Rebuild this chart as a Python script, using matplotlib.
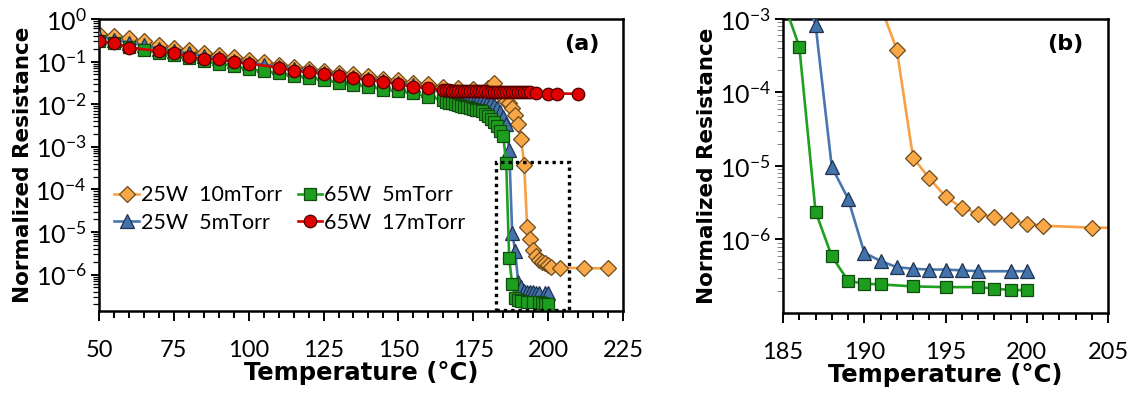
import matplotlib
matplotlib.use("Agg")
import matplotlib.pyplot as plt
from matplotlib.ticker import FixedLocator, LogLocator, FuncFormatter, NullFormatter, MultipleLocator
from matplotlib.patches import Rectangle
import numpy as np

plt.rcParams['font.family'] = ['Lato', 'DejaVu Sans']
plt.rcParams['mathtext.fontset'] = 'custom'
plt.rcParams['mathtext.rm'] = 'Lato'
plt.rcParams['mathtext.bf'] = 'Lato:bold'

# ---------------- data ----------------
# 25W 10mTorr (orange diamonds)
t_25w10 = [50, 55, 60, 65, 70, 75, 80, 85, 90, 95, 100, 105, 110, 115, 120, 125, 130, 135, 140, 145,
           150, 155, 160, 165, 170, 175, 180, 182, 184, 185, 186, 187, 188, 189, 190, 191, 192, 193,
           194, 195, 196, 197, 198, 199, 200, 201, 204, 212, 220]
r_25w10 = [0.45, 0.40, 0.35, 0.30, 0.25, 0.21, 0.185, 0.16, 0.14, 0.125, 0.11, 0.098, 0.085, 0.076,
           0.068, 0.060, 0.055, 0.050, 0.045, 0.040, 0.036, 0.032, 0.029, 0.026, 0.024, 0.023, 0.024,
           0.031, 0.018, 0.015, 0.012, 0.0104, 0.008, 0.0055, 0.0035, 0.0015, 3.84e-4, 1.3e-5,
           6.8e-6, 3.84e-6, 2.7e-6, 2.25e-6, 2.03e-6, 1.83e-6, 1.65e-6, 1.54e-6, 1.45e-6, 1.42e-6, 1.4e-6]

# 25W 5mTorr (blue triangles)
t_25w5 = [50, 55, 60, 65, 70, 75, 80, 85, 90, 95, 100, 105, 110, 115, 120, 125, 130, 135, 140, 145,
          150, 155, 160, 165, 166, 167, 168, 169, 170, 171, 172, 173, 174, 175, 176, 177, 178, 179,
          180, 181, 182, 183, 184, 185, 186, 187, 188, 189, 190, 191, 192, 193, 194, 195, 196, 197,
          199, 200]
r_25w5 = [0.38, 0.33, 0.28, 0.24, 0.20, 0.175, 0.155, 0.135, 0.12, 0.105, 0.095, 0.085, 0.075, 0.067,
          0.060, 0.054, 0.048, 0.043, 0.039, 0.035, 0.031, 0.028, 0.022, 0.019, 0.018, 0.0172, 0.0166,
          0.0162, 0.0159, 0.0157, 0.0155, 0.0153, 0.015, 0.0148, 0.0143, 0.0138, 0.0132, 0.0127,
          0.0122, 0.011, 0.0098, 0.008, 0.0065, 0.005, 0.0035, 8.4e-4, 9.7e-6, 3.6e-6, 6.6e-7, 5.1e-7,
          4.2e-7, 4.0e-7, 3.9e-7, 3.9e-7, 3.8e-7, 3.7e-7, 3.7e-7, 3.7e-7]

# 65W 5mTorr (green squares)
t_65w5 = [50, 55, 60, 65, 70, 75, 80, 85, 90, 95, 100, 105, 110, 115, 120, 125, 130, 135, 140, 145,
          150, 155, 160, 165, 166, 167, 168, 169, 170, 171, 172, 173, 174, 175, 176, 177, 178, 179,
          180, 181, 182, 183, 184, 185, 186, 187, 188, 189, 190, 191, 193, 195, 197, 198, 199, 200]
r_65w5 = [0.30, 0.27, 0.22, 0.19, 0.16, 0.14, 0.119, 0.103, 0.09, 0.08, 0.066, 0.06, 0.053, 0.047,
          0.042, 0.037, 0.032, 0.028, 0.026, 0.022, 0.020, 0.018, 0.015, 0.0125, 0.0113, 0.0108,
          0.0104, 0.0099, 0.0095, 0.0091, 0.0088, 0.0085, 0.0081, 0.0078, 0.0075, 0.0072, 0.0068,
          0.006, 0.0052, 0.0045, 0.0038, 0.003, 0.0024, 0.0018, 4.2e-4, 2.4e-6, 5.9e-7, 2.75e-7,
          2.5e-7, 2.45e-7, 2.3e-7, 2.25e-7, 2.25e-7, 2.15e-7, 2.05e-7, 2.05e-7]

# 65W 17mTorr (red circles)
t_65w17 = [50, 55, 60, 70, 75, 80, 85, 90, 95, 100, 110, 115, 120, 125, 130, 135, 140, 145, 150, 155,
           160, 165, 166, 167, 168, 169, 170, 171, 172, 173, 174, 175, 176, 177, 178, 179, 180, 181,
           182, 183, 184, 185, 186, 187, 188, 189, 190, 191, 192, 193, 194, 196, 200, 203, 210]
r_65w17 = [0.30, 0.28, 0.21, 0.18, 0.16, 0.13, 0.115, 0.112, 0.098, 0.09, 0.072, 0.061, 0.057, 0.052,
           0.047, 0.041, 0.037, 0.034, 0.029, 0.026, 0.024, 0.021, 0.0212, 0.021, 0.0209, 0.0208,
           0.0207, 0.0206, 0.0205, 0.0204, 0.0203, 0.0202, 0.0201, 0.02, 0.0199, 0.0199, 0.0198,
           0.0198, 0.0197, 0.0197, 0.0196, 0.0196, 0.0195, 0.0195, 0.0194, 0.0194, 0.0193, 0.0192,
           0.0191, 0.019, 0.019, 0.018, 0.0178, 0.0178, 0.0176]

labels = ["25W  10mTorr", "25W  5mTorr", "65W  5mTorr", "65W  17mTorr"]

styles = [
    dict(color="#F7A044", marker="D", mfc="#F9A848", mec="#6B4A20", ms=8.5),
    dict(color="#4A76B0", marker="^", mfc="#4472AA", mec="#1F3350", ms=10.0),
    dict(color="#20A020", marker="s", mfc="#1E9E1E", mec="#0F4A0F", ms=9.0),
    dict(color="#D40000", marker="o", mfc="#E00000", mec="#500000", ms=9.0),
]
series = [(t_25w10, r_25w10), (t_25w5, r_25w5), (t_65w5, r_65w5), (t_65w17, r_65w17)]
zorders = [2, 3, 4, 5]

LABEL_FONT = dict(family=['DejaVu Sans'], fontweight='bold')

fig = plt.figure(figsize=(11.36, 3.94), dpi=100)
axA = fig.add_axes([0.0871, 0.2107, 0.4613, 0.7411])
axB = fig.add_axes([0.6893, 0.2056, 0.2861, 0.7462])

def sup_fmt(v, pos):
    e = int(round(np.log10(v)))
    return r'$\mathregular{10^{%d}}$' % e

def style_axis(ax):
    for s in ax.spines.values():
        s.set_linewidth(1.8)
        s.set_color("black")
    ax.tick_params(axis='both', which='both', direction='out', top=False, right=False,
                   width=1.4, color='black')
    ax.tick_params(axis='x', which='major', length=7, pad=14, labelsize=17)
    ax.tick_params(axis='x', which='minor', length=5)
    ax.tick_params(axis='y', which='major', length=6, pad=3, labelsize=18)
    ax.tick_params(axis='y', which='minor', length=4, width=0.9)

handles = []
for (t, r), st, lab, z in zip(series, styles, labels, zorders):
    h, = axA.plot(t, r, lw=1.9, mew=0.9, label=lab, zorder=z, **st)
    handles.append(h)
    axB.plot(t, r, lw=1.9, mew=0.9, zorder=z, **st)

# ---- panel (a)
axA.set_yscale('log')
axA.set_xlim(50, 225)
axA.set_ylim(1.4e-7, 1)
axA.xaxis.set_major_locator(MultipleLocator(25))
axA.xaxis.set_minor_locator(MultipleLocator(5))
axA.yaxis.set_major_locator(FixedLocator([1e-6, 1e-5, 1e-4, 1e-3, 1e-2, 1e-1, 1]))
axA.yaxis.set_major_formatter(FuncFormatter(sup_fmt))
axA.yaxis.set_minor_locator(LogLocator(base=10, subs=np.arange(2, 10), numticks=20))
axA.yaxis.set_minor_formatter(NullFormatter())
style_axis(axA)
axA.set_xlabel("Temperature (°C)", fontsize=17.5, labelpad=0, **LABEL_FONT)
axA.set_ylabel("Normalized Resistance", fontsize=15.5, labelpad=2, **LABEL_FONT)
axA.text(0.956, 0.915, "(a)", transform=axA.transAxes, fontsize=16, ha='right', va='center',
         **LABEL_FONT)
axA.add_patch(Rectangle((182.5, 1.45e-7), 24.5, 4.5e-4 - 1.45e-7, fill=False,
                        edgecolor='black', lw=2.4, linestyle=(0, (1, 1.2)), zorder=6))
leg = axA.legend(handles=handles, loc='upper left', bbox_to_anchor=(0.005, 0.475), ncol=2,
                 frameon=False, fontsize=15.5, handlelength=1.15, handletextpad=0.1,
                 columnspacing=0.7, labelspacing=0.35, borderaxespad=0.2)

# ---- panel (b)
axB.set_yscale('log')
axB.set_xlim(185, 205)
axB.set_ylim(1e-7, 1e-3)
axB.xaxis.set_major_locator(MultipleLocator(5))
axB.xaxis.set_minor_locator(MultipleLocator(1))
axB.yaxis.set_major_locator(FixedLocator([1e-6, 1e-5, 1e-4, 1e-3]))
axB.yaxis.set_major_formatter(FuncFormatter(sup_fmt))
axB.yaxis.set_minor_locator(LogLocator(base=10, subs=np.arange(2, 10), numticks=20))
axB.yaxis.set_minor_formatter(NullFormatter())
style_axis(axB)
axB.tick_params(axis='y', which='minor', color='#888888', width=0.7)
axB.set_xlabel("Temperature (°C)", fontsize=17.5, labelpad=0, **LABEL_FONT)
axB.set_ylabel("Normalized Resistance", fontsize=15.5, labelpad=2, **LABEL_FONT)
axB.text(0.925, 0.915, "(b)", transform=axB.transAxes, fontsize=16, ha='right', va='center',
         **LABEL_FONT)

fig.savefig("out.png", dpi=100)
